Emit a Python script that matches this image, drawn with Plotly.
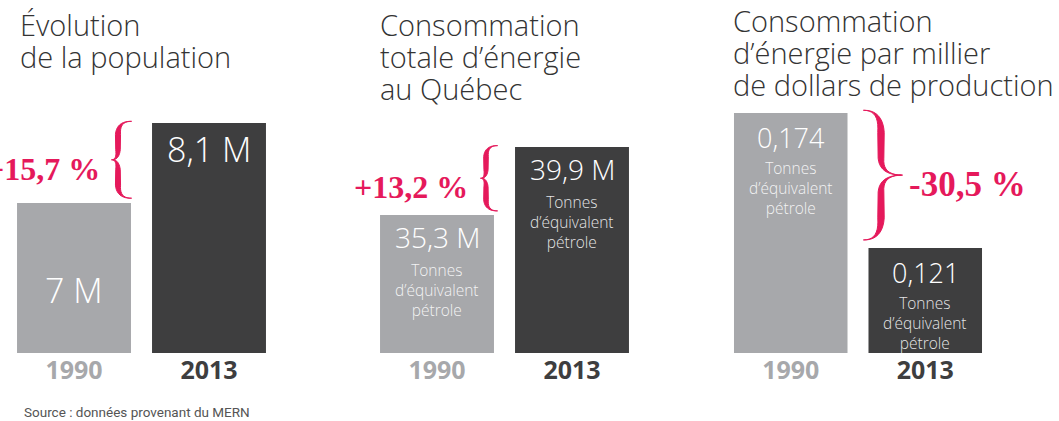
import math
import plotly.graph_objects as go

W, H = 1059, 421

# ---- data -------------------------------------------------------------
years = ["1990", "2013"]

pop_values = [7.0, 8.1]
pop_labels = ["7 M", "8,1 M"]

energy_values = [35.3, 39.9]
energy_labels = ["35,3 M", "39,9 M"]

intensity_values = [0.174, 0.121]
intensity_labels = ["0,174", "0,121"]

titles = [
    ["Évolution", "de la population"],
    ["Consommation", "totale d’énergie", "au Québec"],
    ["Consommation", "d’énergie par millier", "de dollars de production"],
]
changes = ["+15,7 %", "+13,2 %", "-30,5 %"]
unit_label = "Tonnes<br>d’équivalent<br>pétrole"
source_text = "Source : données provenant du MERN"

# ---- style ------------------------------------------------------------
GREY = "#a7a8ab"
DARK = "#3e3e3f"
PINK = "#e5195b"
TITLE_COLOR = "#333333"
SANS = "Open Sans"
SERIF = "Liberation Serif"

BAR_BOTTOM_PX = 353
PLOT_TOP_PX = 100
TITLE_LINE_PX = 31.5


def px(x):
    return x / W


def py(y):
    return 1 - y / H


panels = [
    dict(values=pop_values, labels=pop_labels, units=False, value_size=34,
         x_px=(6.5, 276.5), yrange=[4.94, 8.415], title_x=18, title_y=25,
         brace=dict(end=131, spine=118, tip=112, thick=5.5),
         change_side="left", change_x=102, change_size=32),
    dict(values=energy_values, labels=energy_labels, units=True, value_size=28,
         x_px=(369.5, 639.5), yrange=[25.96, 43.08], title_x=378, title_y=25,
         brace=dict(end=497, spine=486, tip=481, thick=5.0),
         change_side="left", change_x=470, change_size=32),
    dict(values=intensity_values, labels=intensity_labels, units=True, value_size=27,
         x_px=(723.5, 992.5), yrange=[0.0798, 0.1791], title_x=731, title_y=21,
         brace=dict(end=864, spine=881, tip=902, thick=7.0),
         change_side="right", change_x=907, change_size=35),
]


def quad(p0, p1, p2, n=10):
    pts = []
    for k in range(n + 1):
        s = k / n
        pts.append(((1 - s) ** 2 * p0[0] + 2 * (1 - s) * s * p1[0] + s ** 2 * p2[0],
                    (1 - s) ** 2 * p0[1] + 2 * (1 - s) * s * p1[1] + s ** 2 * p2[1]))
    return pts


def brace_path(x_end, x_spine, x_tip, y_top, y_bot, thick_px):
    """Filled calligraphic curly brace; x in paper coords, y in data coords."""
    h = y_top - y_bot
    ym = (y_top + y_bot) / 2
    r, r2 = 0.17 * h, 0.13 * h
    half_top = (quad((x_end, y_top), (x_spine, y_top), (x_spine, y_top - r))
                + [(x_spine, ym + r2)]
                + quad((x_spine, ym + r2), (x_spine, ym), (x_tip, ym)))
    half_bot = (quad((x_end, y_bot), (x_spine, y_bot), (x_spine, y_bot + r))
                + [(x_spine, ym - r2)]
                + quad((x_spine, ym - r2), (x_spine, ym), (x_tip, ym)))

    # the middle of each arm is the thickest part, ends and tip taper
    def widths(pts, y0):
        out = []
        for x, y in pts:
            u = abs(y - y0) / (h / 2)
            t = 1.2 + (thick_px - 1.2) * math.sin(math.pi * min(u, 1)) ** 0.8
            out.append((x, y, t / W / 2))
        return out

    top = widths(half_top, y_top)
    bot = widths(half_bot, y_bot)[::-1]
    centre = top + bot[1:]
    left = [(x - w, y) for x, y, w in centre]
    right = [(x + w, y) for x, y, w in centre][::-1]
    return "M " + " L ".join(f"{x:.6f},{y:.6f}" for x, y in left + right) + " Z"


fig = go.Figure()
annotations = []
shapes = []

for i, p in enumerate(panels):
    n = "" if i == 0 else str(i + 1)
    xa, ya = f"x{n}", f"y{n}"

    fig.add_trace(go.Bar(
        x=years,
        y=p["values"],
        marker=dict(color=[GREY, DARK], line=dict(width=0)),
        xaxis=xa,
        yaxis=ya,
        hoverinfo="skip",
        showlegend=False,
    ))

    fig.update_layout({
        f"xaxis{n}": dict(
            type="category",
            range=[-0.5, 1.5],
            autorange=False,
            domain=[px(p["x_px"][0]), px(p["x_px"][1])],
            anchor=ya,
            showgrid=False, zeroline=False, showline=False, ticks="",
            tickmode="array", tickvals=years,
            ticktext=[f"<b><span style='color:{GREY}'>{years[0]}</span></b>",
                      f"<b><span style='color:{DARK}'>{years[1]}</span></b>"],
            tickfont=dict(family=SANS, size=25),
            tickangle=0,
            fixedrange=True,
        ),
        f"yaxis{n}": dict(
            domain=[py(BAR_BOTTOM_PX), py(PLOT_TOP_PX)],
            anchor=xa,
            range=p["yrange"],
            autorange=False,
            visible=False,
            fixedrange=True,
        ),
    })

    # title, one annotation per line
    for k, line in enumerate(titles[i]):
        annotations.append(dict(
            text=line, xref="paper", yref="paper",
            x=px(p["title_x"]), y=py(p["title_y"] + k * TITLE_LINE_PX),
            xanchor="left", yanchor="middle", align="left", showarrow=False,
            font=dict(family=SANS, size=29, color=TITLE_COLOR, weight=300),
        ))

    # value labels inside bars (category index for x)
    for j, (val, lab) in enumerate(zip(p["values"], p["labels"])):
        if not p["units"] and j == 0:
            annotations.append(dict(
                text=lab, xref=xa, yref=ya, x=j, y=p["yrange"][0],
                yanchor="bottom", yshift=38, showarrow=False,
                font=dict(family=SANS, size=p["value_size"], color="white", weight=300),
            ))
            continue
        annotations.append(dict(
            text=lab, xref=xa, yref=ya, x=j, y=val,
            yanchor="top", yshift=-1 if i < 2 else -4, showarrow=False,
            font=dict(family=SANS, size=p["value_size"], color="white", weight=300),
        ))
        if p["units"]:
            annotations.append(dict(
                text=unit_label, xref=xa, yref=ya, x=j, y=val,
                yanchor="top", yshift=-42, showarrow=False,
                font=dict(family=SANS, size=15.5,
                          color="rgba(255,255,255,0.88)", weight=300),
            ))

    # brace + percent change
    hi, lo = max(p["values"]), min(p["values"])
    span = hi - lo
    y_top = hi + 0.02 * span
    y_bot = lo + 0.06 * span
    b = p["brace"]
    shapes.append(dict(
        type="path", xref="paper", yref=ya,
        path=brace_path(px(b["end"]), px(b["spine"]), px(b["tip"]),
                        y_top, y_bot, b["thick"]),
        fillcolor=PINK,
        line=dict(color=PINK, width=1),
    ))
    annotations.append(dict(
        text=f"<b>{changes[i]}</b>", xref="paper", yref=ya,
        x=px(p["change_x"]), y=(y_top + y_bot) / 2,
        xanchor="right" if p["change_side"] == "left" else "left",
        yanchor="middle", yshift=-9, showarrow=False,
        font=dict(family=SERIF, size=p["change_size"], color=PINK),
    ))

annotations.append(dict(
    text=source_text, xref="paper", yref="paper",
    x=px(22), y=py(412), xanchor="left", yanchor="middle", showarrow=False,
    font=dict(family="Roboto", size=13.5, color="#555555"),
))

fig.update_layout(
    width=W, height=H,
    margin=dict(l=0, r=0, t=0, b=0),
    paper_bgcolor="white",
    plot_bgcolor="white",
    bargap=0.156,
    annotations=annotations,
    shapes=shapes,
    showlegend=False,
)

fig.write_html(
    "out.html",
    config={"displayModeBar": False},
    post_script="document.body.style.margin='0';",
)
